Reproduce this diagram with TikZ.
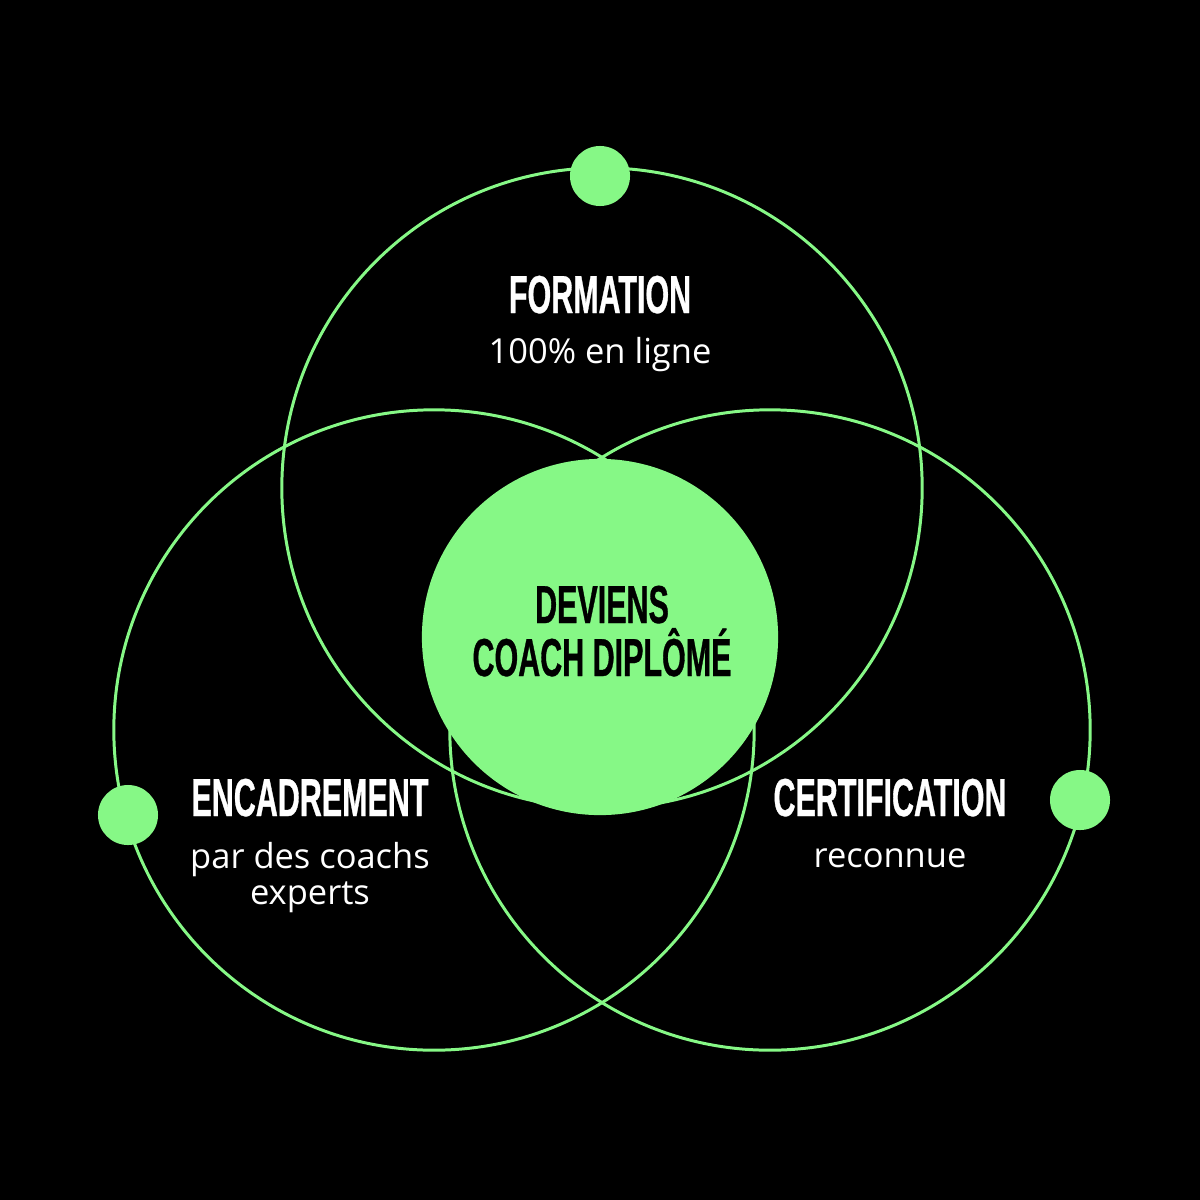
\documentclass[tikz,border=0pt]{standalone}
\usepackage{fontspec}
\setmainfont{Open Sans}
\newfontfamily\headfont[FakeStretch=0.57,FakeBold=0.6]{Liberation Sans Bold}
\definecolor{vgreen}{RGB}{134,248,134}
\begin{document}
\begin{tikzpicture}[x=0.01cm,y=-0.01cm,
  ring/.style={circle,draw=vgreen,line width=0.85pt,inner sep=0pt,minimum size=6.4cm},
  dot/.style={circle,fill=vgreen,inner sep=0pt,minimum size=0.6cm},
  head/.style={text=white,font=\headfont\fontsize{15.2}{18}\selectfont,anchor=base,inner sep=0pt},
  headdark/.style={text=black,font=\headfont\fontsize{15.2}{18}\selectfont,anchor=base,inner sep=0pt},
  body/.style={text=white,font=\fontsize{9.8}{10.3}\selectfont,anchor=base,inner sep=0pt,align=center}]
\fill[black] (0,0) rectangle (1200,1200);
\useasboundingbox (0,0) rectangle (1200,1200);
% rings
\node[ring] (top) at (602,488) {};
\node[ring] (left) at (434,730) {};
\node[ring] (right) at (770,730) {};
% centre disc
\node[circle,fill=vgreen,inner sep=0pt,minimum size=3.56cm] (core) at (600,637) {};
% dots
\node[dot] (dtop) at (600,176) {};
\node[dot] (dleft) at (128,815) {};
\node[dot] (dright) at (1080,800) {};
% texts
\node[head] (t1) at (600,313) {FORMATION};
\node[body] (t1b) at (600,363) {100\% en ligne};
\node[headdark] (c1) at (602,623) {DEVIENS};
\node[headdark] (c2) at (602,676) {COACH DIPLÔMÉ};
\node[head] (t2) at (310,816) {ENCADREMENT};
\node[body] (t2b) at (310,868) {par des coachs};
\node[body] (t2c) at (310,904) {experts};
\node[head] (t3) at (890,816) {CERTIFICATION};
\node[body] (t3b) at (890,867) {reconnue};
\end{tikzpicture}
\end{document}
